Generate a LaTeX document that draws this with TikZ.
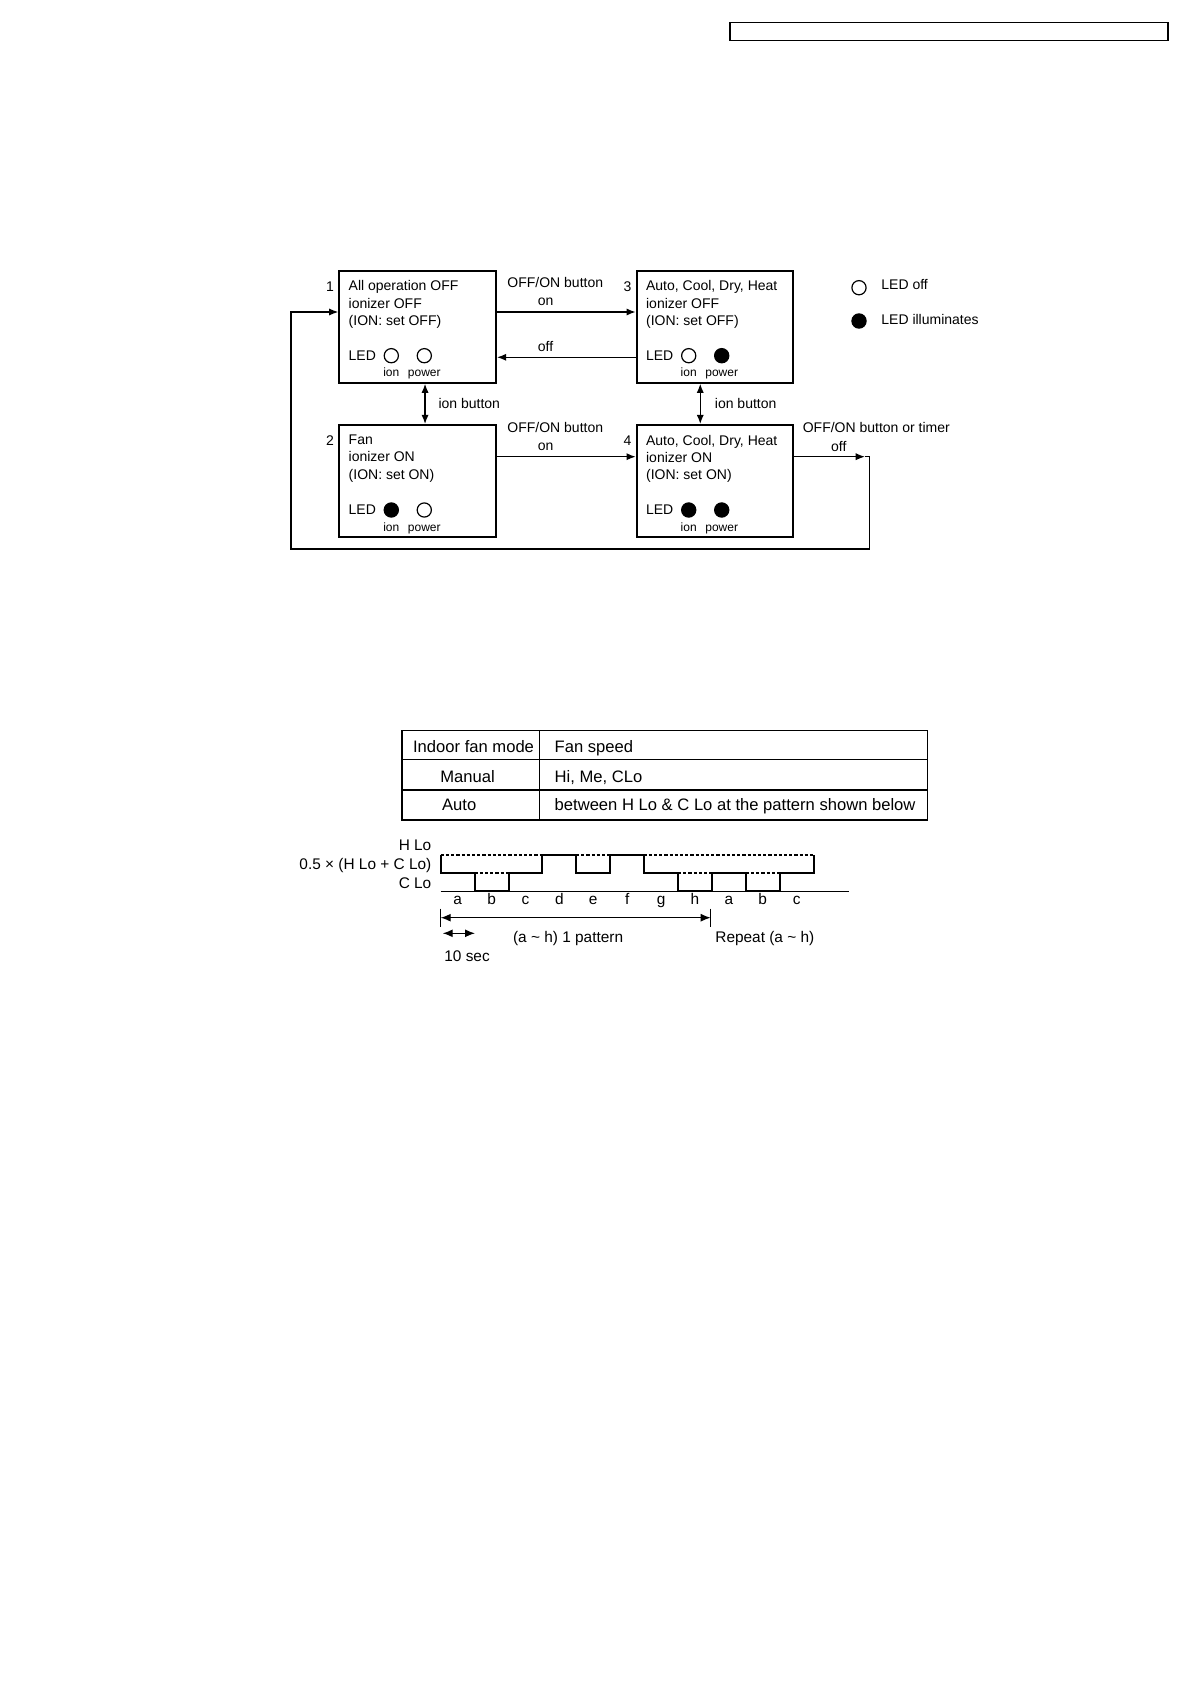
\documentclass[tikz,border=0pt]{standalone}
\usepackage{fontspec}
\setmainfont{Liberation Sans}
\usetikzlibrary{arrows.meta, positioning, calc}
\tikzset{next/.style={-{Latex[length=4.6pt,width=3.6pt]}, line width=.65pt}}
\tikzset{twoway/.style={{Latex[length=4.6pt,width=3.6pt]}-{Latex[length=4.6pt,width=3.6pt]}, line width=.65pt}}
\tikzset{modebox/.style={draw, line width=1pt, minimum width=78.35pt, minimum height=56pt, inner sep=0pt, anchor=north west}}
\tikzset{boxtext/.style={font=\fontsize{7}{8.65}\selectfont, align=left, inner sep=0pt, anchor=north west}}
\tikzset{arrowlbl/.style={font=\fontsize{7}{8.65}\selectfont, inner sep=0pt}}
\tikzset{ledlbl/.style={font=\fontsize{6}{7}\selectfont, inner sep=0pt, anchor=base}}
\tikzset{ledoff/.style={circle, draw, line width=.6pt, minimum size=7.1pt, inner sep=0pt}}
\tikzset{ledon/.style={ledoff, fill=black}}
\tikzset{cell/.style={font=\fontsize{8.3}{10}\selectfont, inner sep=0pt, anchor=base west}}
\tikzset{chartlbl/.style={font=\fontsize{7.7}{9}\selectfont, inner sep=0pt}}
\tikzset{wave/.style={line width=1pt}}
\tikzset{guide/.style={dash pattern=on 1.6pt off 1pt, line width=.6pt}}
\newcommand{\hlo}{855}
\newcommand{\mlo}{873}
\newcommand{\clo}{891.3}
\newcommand{\stepw}{33.9}
\newcommand{\chartx}{440.7}
% one operation mode: name, corner, number, text, ion led, power led
\newcommand{\statebox}[6]{%
  \node[modebox] (#1) at (#2) {};
  \node[arrowlbl] (#1num) at ($(#1.north west)+(-8.3,16.5)$) {#3};
  \node[boxtext] (#1txt) at ($(#1.north west)+(10,10.5)$) {#4};
  \node[arrowlbl, anchor=base west] (#1led) at ($(#1.north west)+(10,90.5)$) {LED};
  \node[#5] (#1ion) at ($(#1.north west)+(53,86)$) {};
  \node[#6] (#1pow) at ($(#1.north west)+(86,86)$) {};
  \node[ledlbl] (#1ionlbl) at ($(#1.north west)+(53,107)$) {ion};
  \node[ledlbl] (#1powlbl) at ($(#1.north west)+(86,107)$) {power};
}
\begin{document}
\begin{tikzpicture}[x=.5pt, y=-.5pt]
  \useasboundingbox (0,0) rectangle (1190,1684);

  % --- header ---
  \node[draw, line width=.6pt, minimum width=219pt, minimum height=9pt, inner sep=0pt, anchor=north west] (header) at (729.3,22.3) {};

  % --- modes ---
  \statebox{s1}{338.3,269.7}{1}{All operation OFF\\ionizer OFF\\(ION: set OFF)}{ledoff}{ledoff}
  \statebox{s2}{338.3,424}{2}{Fan\\ionizer ON\\(ION: set ON)}{ledon}{ledoff}
  \statebox{s3}{635.7,269.7}{3}{Auto, Cool, Dry, Heat\\ionizer OFF\\(ION: set OFF)}{ledoff}{ledon}
  \statebox{s4}{635.7,424}{4}{Auto, Cool, Dry, Heat\\ionizer ON\\(ION: set ON)}{ledon}{ledon}

  % --- legend ---
  \node[ledoff] (keyoff) at (859,287.7) {};
  \node[ledon] (keyon) at (859,321) {};
  \node[arrowlbl, anchor=base west] (keyofftxt) at (881,289.4) {LED off};
  \node[arrowlbl, anchor=base west] (keyontxt) at (881,324.4) {LED illuminates};

  % --- transitions ---
  \draw[next] ([yshift=7.35pt]s1.east) -- node[arrowlbl, pos=.42, anchor=base, yshift=12pt] (btn13) {OFF/ON button}
                                         node[arrowlbl, pos=.35, anchor=base, yshift=3pt] (on13) {on} ([yshift=7.35pt]s3.west);
  \draw[next] ([yshift=-15.3pt]s3.west) -- node[arrowlbl, pos=.65, anchor=base, yshift=3pt] (off31) {off} ([yshift=-15.3pt]s1.east);
  \draw[next] ([yshift=12.15pt]s2.east) -- node[arrowlbl, pos=.42, anchor=base, yshift=12pt] (btn24) {OFF/ON button}
                                          node[arrowlbl, pos=.35, anchor=base, yshift=3pt] (on24) {on} ([yshift=12.15pt]s4.west);

  \draw[twoway] ([xshift=3.7pt]s1.south) -- node[arrowlbl, anchor=west, xshift=6.4pt] (ion12) {ion button} ([xshift=3.7pt]s2.north);
  \draw[twoway] ([xshift=-7.4pt]s3.south) -- node[arrowlbl, anchor=west, xshift=7pt] (ion34) {ion button} ([xshift=-7.4pt]s4.north);

  \coordinate (offtip) at ($([yshift=12.15pt]s4.east)+(70.5,0)$);
  \coordinate (loopbl) at (291,549);
  \draw[next] ([yshift=12.15pt]s4.east) -- node[arrowlbl, pos=.11, anchor=base west, yshift=12pt] (btn41) {OFF/ON button or timer}
                                          node[arrowlbl, pos=.63, anchor=base, yshift=2.6pt] (off41) {off} (offtip);
  \draw[next] (offtip) -- ++(4.3,0) |- (loopbl) |- ([yshift=7.35pt]s1.west);

  % --- fan speed table ---
  \draw[line width=.8pt] (401.7,730.3) rectangle (927.3,820);
  \draw[line width=.8pt] (401.7,759.3) -- (927.3,759.3)
                         (401.7,790) -- (927.3,790)
                         (539.3,730.3) -- (539.3,820);
  \node[cell] (hmode) at (412.7,752.6) {Indoor fan mode};
  \node[cell] (hspeed) at (554.3,752.6) {Fan speed};
  \node[cell] (manual) at (440,782.6) {Manual};
  \node[cell] (manualspd) at (554.3,782.6) {Hi, Me, CLo};
  \node[cell] (auto) at (441.7,810.9) {Auto};
  \node[cell] (autospd) at (554.3,810.9) {between H Lo \& C Lo at the pattern shown below};

  % --- auto pattern ---
  \node[chartlbl, anchor=base east] (lvlh) at (431.7,850.5) {H Lo};
  \node[chartlbl, anchor=base east] (lvlm) at (431.7,869.8) {0.5 × (H Lo + C Lo)};
  \node[chartlbl, anchor=base east] (lvlc) at (431.7,888.2) {C Lo};

  \draw[guide] (\chartx,\hlo) -- ({\chartx+11*\stepw},\hlo);
  \draw[guide] ({\chartx+\stepw},\mlo) -- ({\chartx+2*\stepw},\mlo)
               ({\chartx+7*\stepw},\mlo) -- ({\chartx+8*\stepw},\mlo)
               ({\chartx+9*\stepw},\mlo) -- ({\chartx+10*\stepw},\mlo);
  \draw[line width=.6pt] (\chartx,\clo) -- (849,\clo);
  \draw[wave] (\chartx,\hlo) |- ({\chartx+\stepw},\mlo) |- ({\chartx+2*\stepw},\clo)
              |- ({\chartx+3*\stepw},\mlo) |- ({\chartx+4*\stepw},\hlo)
              |- ({\chartx+5*\stepw},\mlo) |- ({\chartx+6*\stepw},\hlo)
              |- ({\chartx+7*\stepw},\mlo) |- ({\chartx+8*\stepw},\clo)
              |- ({\chartx+9*\stepw},\mlo) |- ({\chartx+10*\stepw},\clo)
              |- ({\chartx+11*\stepw},\mlo) -- ({\chartx+11*\stepw},\hlo);
  \foreach \l [count=\i] in {a,b,c,d,e,f,g,h,a,b,c}
    \node[chartlbl, anchor=base] (slot\i) at ({\chartx+(\i-0.5)*\stepw},904.7) {\l};

  \coordinate (patstart) at (\chartx,917.7);
  \coordinate (patend) at (710.7,917.7);
  \draw[line width=.6pt] (\chartx,908.7) -- (\chartx,927) (710.7,908.7) -- (710.7,927);
  \draw[twoway, {Latex[length=5pt,width=4pt]}-{Latex[length=5pt,width=4pt]}] (patstart) -- (patend);
  \coordinate (secstart) at (442.7,933.3);
  \coordinate (secend) at (475,933.3);
  \draw[twoway, {Latex[length=5pt,width=4pt]}-{Latex[length=5pt,width=4pt]}] (secstart) -- (secend);
  \node[chartlbl, anchor=base west] (patlbl) at (512.7,942.2) {(a \textasciitilde{} h) 1 pattern};
  \node[chartlbl, anchor=base west] (replbl) at (715,942.2) {Repeat (a \textasciitilde{} h)};
  \node[chartlbl, anchor=base west] (seclbl) at (444,961.2) {10 sec};
\end{tikzpicture}
\end{document}
